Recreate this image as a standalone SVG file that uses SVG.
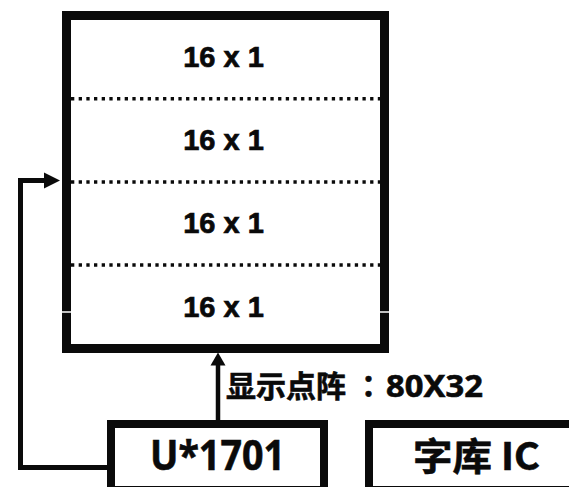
<svg xmlns="http://www.w3.org/2000/svg" width="569" height="487" viewBox="0 0 569 487">
<defs>
<style>
.box{fill:#fff;stroke:#0a0a0a}
.dot{stroke:#0a0a0a;stroke-width:3.5;stroke-dasharray:3.3 4.37;fill:none}
.row{font-family:"Liberation Sans",Arial,sans-serif;font-weight:bold;font-size:29px;fill:#0a0a0a;stroke:#0a0a0a;stroke-width:0.7px;text-anchor:middle}
.cj{font-family:"Noto Sans CJK SC","Noto Sans",sans-serif;font-weight:bold;fill:#0a0a0a;stroke:#0a0a0a;stroke-width:0.6px}
.lat{font-family:"Noto Sans","Noto Sans CJK SC",sans-serif;font-weight:bold;fill:#0a0a0a;stroke:#0a0a0a;stroke-width:0.6px}
.wire{stroke:#0a0a0a;fill:none}
</style>
</defs>
<rect width="569" height="487" fill="#fff"/>
<g id="display">
<rect class="box" x="66.5" y="15.5" width="318" height="333" stroke-width="9"/>
<line class="dot" x1="71" y1="98.7" x2="380" y2="98.7"/>
<line class="dot" x1="71" y1="182" x2="380" y2="182"/>
<line class="dot" x1="71" y1="265" x2="380" y2="265"/>
<line x1="61" y1="312" x2="72" y2="312" stroke="#fff" stroke-width="1.5"/>
<line x1="379" y1="312" x2="390" y2="312" stroke="#fff" stroke-width="1.5"/>
<text class="row" x="223.5" y="67">16 x 1</text>
<text class="row" x="223.5" y="150">16 x 1</text>
<text class="row" x="223.5" y="233">16 x 1</text>
<text class="row" x="223.5" y="317">16 x 1</text>
</g>
<g id="connectors">
<path class="wire" d="M111 467.5 H20.5 V180.5 H46" stroke-width="5"/>
<polygon points="44,172.5 60,180.5 44,188.5" fill="#0a0a0a"/>
<line class="wire" x1="218" y1="421" x2="218" y2="364" stroke-width="4.5"/>
<polygon points="210.5,365.5 218,352.5 225.5,365.5" fill="#0a0a0a"/>
<text y="397" font-size="30"><tspan class="cj" x="226" textLength="120" lengthAdjust="spacingAndGlyphs">显示点阵</tspan></text>
<text class="cj" x="368.5" y="397" font-size="30" text-anchor="middle" style="font-family:'Noto Sans CJK TC','Noto Sans CJK SC',sans-serif">：</text>
<text class="lat" x="386" y="397" font-size="31" textLength="97" lengthAdjust="spacingAndGlyphs">80X32</text>
</g>
<g id="u1701">
<rect class="box" x="111" y="424" width="213" height="66" stroke-width="8"/>
<text class="lat" x="150" y="470" font-size="41" textLength="135" lengthAdjust="spacingAndGlyphs">U*1701</text>
</g>
<g id="fontic">
<rect class="box" x="369" y="424" width="220" height="66" stroke-width="8"/>
<text class="cj" x="413" y="470" font-size="38" textLength="127" lengthAdjust="spacingAndGlyphs">字库 IC</text>
</g>
</svg>
